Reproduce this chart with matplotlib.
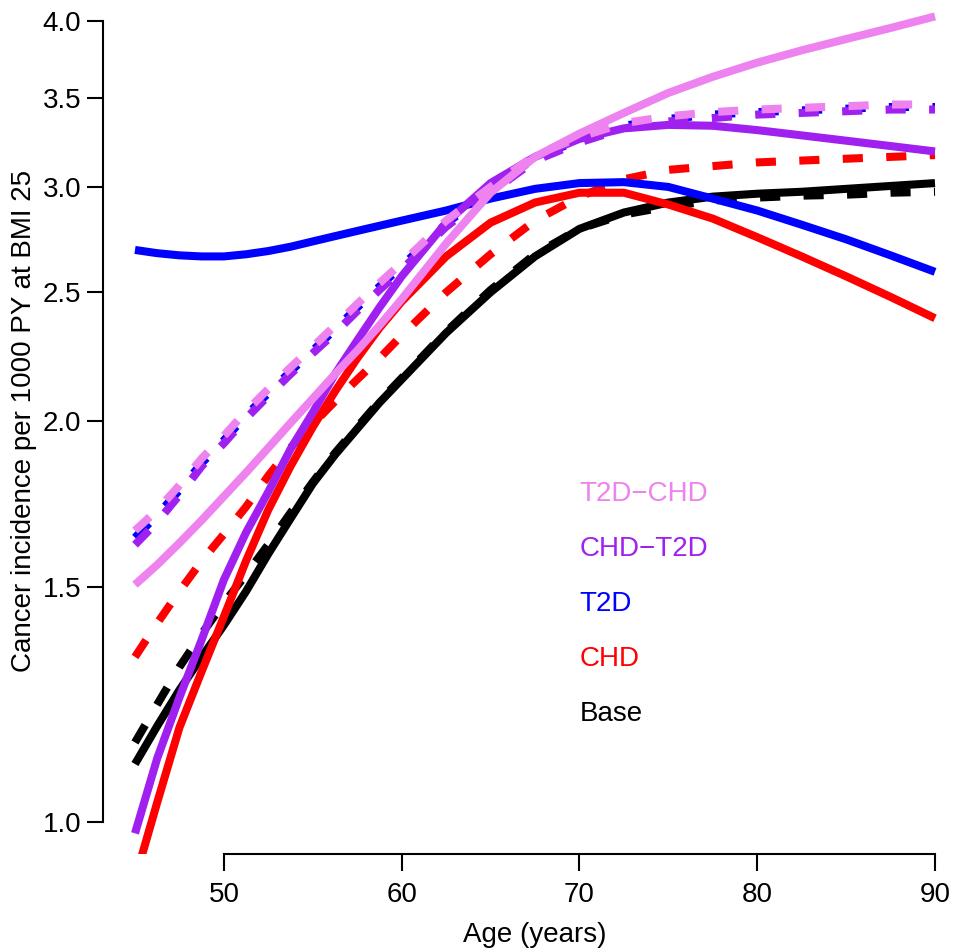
import numpy as np
import matplotlib
matplotlib.use("Agg")
import matplotlib.pyplot as plt
from matplotlib.ticker import FixedLocator, NullLocator, FormatStrFormatter

plt.rcParams['font.family'] = ['Liberation Sans', 'DejaVu Sans']

age = [45, 46.25, 47.5, 48.75, 50, 51.25, 52.5, 53.75, 55, 56.25, 57.5, 58.75,
       60, 62.5, 65, 67.5, 70, 72.5, 75, 77.5, 80, 82.5, 85, 87.5, 90]

# solid curves
base_solid = [1.105, 1.18, 1.256, 1.33, 1.405, 1.49, 1.59, 1.69, 1.795, 1.887, 1.974, 2.065,
              2.15, 2.33, 2.50, 2.66, 2.79, 2.87, 2.92, 2.95, 2.965, 2.975, 2.99, 3.005, 3.02]
chd_solid = [0.905, 1.034, 1.177, 1.297, 1.426, 1.571, 1.716, 1.85, 1.98, 2.106, 2.23, 2.35,
             2.46, 2.66, 2.82, 2.92, 2.97, 2.97, 2.91, 2.84, 2.75, 2.66, 2.57, 2.48, 2.39]
t2d_solid = [2.69, 2.675, 2.665, 2.66, 2.66, 2.67, 2.685, 2.705, 2.73, 2.755, 2.78, 2.805,
             2.83, 2.88, 2.94, 2.99, 3.02, 3.025, 3.00, 2.94, 2.88, 2.81, 2.74, 2.665, 2.59]
chd_t2d_solid = [0.98, 1.116, 1.24, 1.37, 1.52, 1.65, 1.77, 1.906, 2.03, 2.17, 2.30, 2.435,
                 2.57, 2.82, 3.02, 3.16, 3.26, 3.32, 3.34, 3.335, 3.31, 3.28, 3.25, 3.22, 3.19]
t2d_chd_solid = [1.507, 1.56, 1.62, 1.685, 1.756, 1.83, 1.91, 1.994, 2.08, 2.17, 2.26, 2.36,
                 2.47, 2.72, 2.97, 3.16, 3.29, 3.41, 3.53, 3.63, 3.72, 3.80, 3.875, 3.95, 4.03]

# dashed curves
base_dashed = [1.147, 1.225, 1.307, 1.384, 1.46, 1.534, 1.616, 1.707, 1.80, 1.893, 1.98, 2.07,
               2.155, 2.335, 2.51, 2.67, 2.79, 2.86, 2.90, 2.93, 2.945, 2.955, 2.96, 2.97, 2.975]
chd_dashed = [1.33, 1.41, 1.49, 1.57, 1.645, 1.725, 1.82, 1.91, 1.99, 2.07, 2.15, 2.23,
              2.32, 2.50, 2.67, 2.83, 2.95, 3.04, 3.09, 3.11, 3.13, 3.14, 3.15, 3.16, 3.17]
t2d_dashed = [1.635, 1.70, 1.775, 1.86, 1.935, 2.02, 2.10, 2.18, 2.26, 2.345, 2.435, 2.525,
              2.615, 2.815, 2.985, 3.155, 3.255, 3.335, 3.375, 3.40, 3.415, 3.425, 3.435, 3.445, 3.445]
chd_t2d_dashed = [1.615, 1.68, 1.76, 1.85, 1.925, 2.01, 2.09, 2.17, 2.25, 2.33, 2.42, 2.51,
                  2.60, 2.80, 2.97, 3.14, 3.24, 3.32, 3.36, 3.38, 3.40, 3.41, 3.42, 3.43, 3.43]
t2d_chd_dashed = [1.655, 1.715, 1.79, 1.875, 1.95, 2.035, 2.115, 2.195, 2.275, 2.36, 2.45, 2.54,
                  2.63, 2.83, 3.00, 3.17, 3.27, 3.35, 3.39, 3.415, 3.43, 3.44, 3.45, 3.46, 3.46]

labels = ['T2D\u2212CHD', 'CHD\u2212T2D', 'T2D', 'CHD', 'Base']
label_y = [1.764, 1.604, 1.458, 1.326, 1.205]
colors = ['#EE82EE', '#A020F0', '#0000FF', '#FF0000', '#000000']

yticks = [1.0, 1.5, 2.0, 2.5, 3.0, 3.5, 4.0]
xticks = [50, 60, 70, 80, 90]

LW = 5.8
DASH = (0, (2.5, 2.9))

fig = plt.figure(figsize=(9.54, 9.52), dpi=100)
ax = fig.add_axes([103 / 954, 98 / 952, 864 / 954, 866 / 952])

pairs = [
    (base_solid, base_dashed, colors[4]),
    (chd_solid, chd_dashed, colors[3]),
    (t2d_solid, t2d_dashed, colors[2]),
    (chd_t2d_solid, chd_t2d_dashed, colors[1]),
    (t2d_chd_solid, t2d_chd_dashed, colors[0]),
]
for solid, dashed, col in pairs:
    ax.plot(age, solid, color=col, linewidth=LW, solid_capstyle='butt',
            solid_joinstyle='round')
    ax.plot(age, dashed, color=col, linewidth=LW, linestyle=DASH,
            dash_capstyle='butt')

for txt, yy, col in zip(labels, label_y, colors):
    ax.text(70, yy, txt, color=col, fontsize=20, ha='left', va='center')

ax.set_yscale('log')
ax.set_xlim(43.2, 91.8)
ax.set_ylim(0.9456, 4.233)

ax.yaxis.set_major_locator(FixedLocator(yticks))
ax.yaxis.set_minor_locator(NullLocator())
ax.yaxis.set_major_formatter(FormatStrFormatter('%.1f'))
ax.xaxis.set_major_locator(FixedLocator(xticks))

for side in ['top', 'right']:
    ax.spines[side].set_visible(False)
ax.spines['left'].set_bounds(1.0, 4.0)
ax.spines['bottom'].set_bounds(50, 90)
for side in ['left', 'bottom']:
    ax.spines[side].set_linewidth(1.5)

ax.tick_params(axis='y', length=11.5, width=1.5, pad=4.3, labelsize=20)
ax.tick_params(axis='x', length=12, width=1.5, pad=8, labelsize=20)

ax.set_xlabel('Age (years)', fontsize=20, labelpad=10)
ax.set_ylabel('Cancer incidence per 1000 PY at BMI 25', fontsize=20, labelpad=4)

fig.savefig('out.png', dpi=100)
plt.close(fig)
